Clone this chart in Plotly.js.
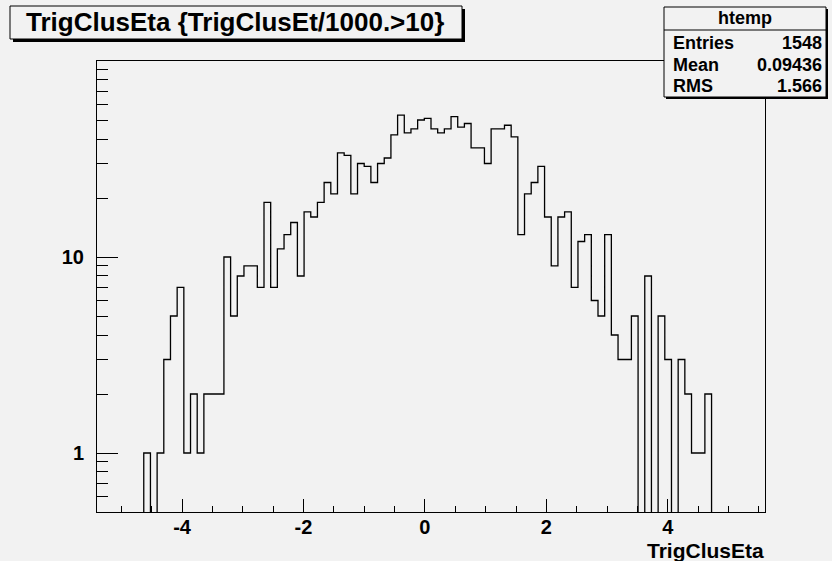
<!DOCTYPE html>
<html><head><meta charset="utf-8">
<script src="https://cdn.plot.ly/plotly-3.0.1.min.js"></script>
<style>html,body{margin:0;padding:0;background:#f2f2f2;} #chart{width:832px;height:561px;}</style>
</head><body><div id="chart"></div>
<script>
// Histogram definition (ROOT htemp, 100 bins)
const xMin = -5.4;
const xMax = 5.6;
const nBins = 100;
const counts = [
  0,0,0,0,0,0,0,1,0,1,
  3,5,7,1,2,1,2,2,2,10,
  5,8,9,9,7,19,7,11,13,15,
  8,17,16,19,24,21,34,33,21,30,
  29,24,30,32,42,53,43,45,50,51,
  45,43,45,52,46,48,36,36,30,45,
  45,47,41,13,21,24,29,16,9,16,
  17,7,12,13,6,5,13,4,3,3,
  5,0,8,0,5,3,0,3,2,1,
  1,2,0,0,0,0,0,0,0,0
];
const xMajorTicks = [-4, -2, 0, 2, 4];
const xMajorLabels = ['-4', '-2', '0', '2', '4'];
const yMajorTicks = [1, 10];
const yMajorLabels = ['1', '10'];
const yMinorTicks = [0.6,0.7,0.8,0.9,2,3,4,5,6,7,8,9,20,30,40,50,60,70,80,90];
const titleText = 'TrigClusEta {TrigClusEt/1000.>10}';
const xTitleText = 'TrigClusEta';
const statsName = 'htemp';
const statsLabels = ['Entries', 'Mean', 'RMS'];
const statsValues = ['1548', '0.09436', '1.566'];

// build step outline
const bw = (xMax - xMin) / nBins;
const floorVal = 0.01;
const sx = [xMin], sy = [floorVal];
counts.forEach((c, i) => {
  const v = c > 0 ? c : floorVal;
  sx.push(xMin + i * bw, xMin + (i + 1) * bw);
  sy.push(v, v);
});
sx.push(xMax); sy.push(floorVal);

// pixel -> paper helpers (plot area 97..765 x 61..512)
const L = 97, R = 67, T = 61, B = 49, W = 832, H = 561;
const pw = W - L - R, ph = H - T - B;
const px = x => (x - L) / pw;
const py = y => (H - B - y) / ph;

const FONT = 'Liberation Sans, Arial, Helvetica, sans-serif';
const bg = '#f2f2f2';

const traces = [
  {x: sx, y: sy, type: 'scatter', mode: 'lines', line: {color: '#000', width: 1.3, shape: 'linear'}, hoverinfo: 'skip'},
  {x: [null], y: [null], type: 'scatter', mode: 'lines', yaxis: 'y2', hoverinfo: 'skip'}
];

function rect(x0, y0, x1, y1, fill, lineW) {
  return {type: 'rect', xref: 'paper', yref: 'paper', x0: px(x0), x1: px(x1), y0: py(y1), y1: py(y0),
    fillcolor: fill, line: {color: '#000', width: lineW}, layer: 'above'};
}
function lineShape(x0, y0, x1, y1) {
  return {type: 'line', xref: 'paper', yref: 'paper', x0: px(x0), x1: px(x1), y0: py(y0), y1: py(y1),
    line: {color: '#000', width: 1}, layer: 'above'};
}

const shapes = [
  rect(13, 9, 465, 42, '#000', 0),
  rect(10, 6, 462, 39, bg, 1),
  rect(666, 9, 828, 99, '#000', 0),
  rect(664, 7, 826, 97, bg, 1),
  lineShape(664, 30, 826, 30)
];

const ann = [];
function addText(text, x, y, xanchor, size) {
  ann.push({text: text, xref: 'paper', yref: 'paper', x: px(x), y: py(y), xanchor: xanchor, yanchor: 'middle',
    showarrow: false, font: {family: FONT, size: size, color: '#000', weight: 'bold'}});
}
addText(titleText, 235, 22.5, 'center', 26);
addText(statsName, 745, 18, 'center', 18);
statsLabels.forEach((s, i) => {
  addText(s, 671, 43 + i * 21.5, 'left', 18);
  addText(statsValues[i], 824, 43 + i * 21.5, 'right', 18);
});
addText(xTitleText, 766, 550, 'right', 21);

const axisCommon = {showline: true, linecolor: '#000', linewidth: 1, mirror: true, showgrid: false, zeroline: false,
  tickcolor: '#000', tickwidth: 1, ticks: 'inside'};

const layout = {
  width: W, height: H,
  margin: {l: L, r: R, t: T, b: B, pad: 0},
  paper_bgcolor: bg, plot_bgcolor: bg,
  showlegend: false,
  font: {family: FONT, color: '#000'},
  xaxis: Object.assign({}, axisCommon, {
    range: [xMin, xMax], tickmode: 'array', tickvals: xMajorTicks, ticktext: xMajorLabels, ticklen: 13,
    tickfont: {family: FONT, size: 20, weight: 'bold', color: '#000'},
    ticklabelstandoff: -3,
    minor: {tickmode: 'linear', tick0: 0, dtick: 0.5, ticks: 'inside', ticklen: 6, tickcolor: '#000', tickwidth: 1, showgrid: false}
  }),
  yaxis: Object.assign({}, axisCommon, {
    type: 'log', range: [Math.log10(0.5), 2], tickmode: 'array', tickvals: yMajorTicks, ticktext: yMajorLabels,
    ticklen: 21, tickfont: {family: FONT, size: 20, weight: 'bold', color: '#000'}, ticklabelstandoff: 8
  }),
  yaxis2: {
    type: 'log', overlaying: 'y', side: 'left', range: [Math.log10(0.5), 2], tickmode: 'array', tickvals: yMinorTicks,
    showticklabels: false, ticks: 'inside', ticklen: 11, tickcolor: '#000', tickwidth: 1,
    showline: false, showgrid: false, zeroline: false
  },
  shapes: shapes,
  annotations: ann
};

Plotly.newPlot('chart', traces, layout, {displayModeBar: false, staticPlot: true});
</script>
</body></html>
